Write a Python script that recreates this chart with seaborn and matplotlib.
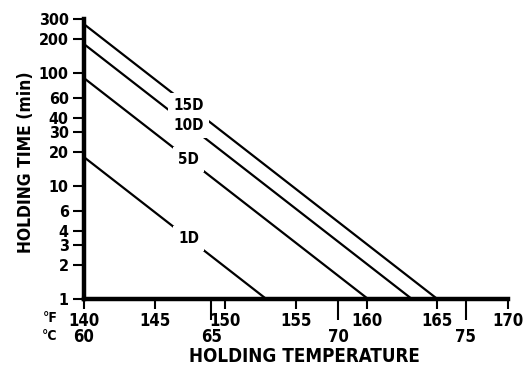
import numpy as np
import pandas as pd
import matplotlib
matplotlib.use("Agg")
import matplotlib.pyplot as plt
import seaborn as sns

# ---- data ----
curve_labels = ["1D", "5D", "10D", "15D"]
start_temp_f = [140, 140, 140, 140]          # holding temperature at start (°F)
start_time_min = [18, 90, 180, 270]          # holding time at 140 °F (min)
end_temp_f = [152.9, 160.1, 163.2, 165.0]    # temperature where time reaches 1 min
end_time_min = [1, 1, 1, 1]
label_temp_f = 147.4                         # where curve labels sit

y_ticks = [1, 2, 3, 4, 6, 10, 20, 30, 40, 60, 100, 200, 300]
y_ticklabels = ["1", "2", "3", "4", "6", "10", "20", "30", "40", "60", "100", "200", "300"]
f_ticks = [140, 145, 150, 155, 160, 165, 170]
c_ticks = [60, 65, 70, 75]

rows = []
for lab, t0, y0, t1, y1 in zip(curve_labels, start_temp_f, start_time_min, end_temp_f, end_time_min):
    rows.append(dict(curve=lab, temp=t0, time=y0))
    rows.append(dict(curve=lab, temp=t1, time=y1))
df = pd.DataFrame(rows)

sns.set_style("ticks")
plt.rcParams["font.family"] = ["DejaVu Sans"]
plt.rcParams["font.stretch"] = "condensed"
plt.rcParams["font.weight"] = "bold"
for k in ["text.color", "axes.labelcolor", "xtick.color", "ytick.color",
          "xtick.labelcolor", "ytick.labelcolor"]:
    plt.rcParams[k] = "black"

W, H = 532, 365
fig = plt.figure(figsize=(W / 100, H / 100), dpi=100)
x0, x1, ytop, ybot = 84, 508, 19, 299
ax = fig.add_axes([x0 / W, 1 - ybot / H, (x1 - x0) / W, (ybot - ytop) / H])

sns.lineplot(data=df, x="temp", y="time", units="curve", estimator=None,
             color="black", linewidth=1.6, ax=ax, legend=False)

ax.set_yscale("log")
ax.set_ylim(1, 300)
ax.set_xlim(140, 170)
for ln in ax.lines:
    ln.set_clip_on(False)

ax.set_yticks(y_ticks)
ax.set_yticklabels(y_ticklabels)
ax.yaxis.set_minor_locator(matplotlib.ticker.NullLocator())
ax.set_xticks(f_ticks)
ax.set_xticklabels([str(v) for v in f_ticks])

for s in ["top", "right"]:
    ax.spines[s].set_visible(False)
for s in ["left", "bottom"]:
    ax.spines[s].set_linewidth(3.2)
    ax.spines[s].set_color("black")

ax.tick_params(axis="y", length=8, width=1.5, labelsize=11.5, pad=3)
ax.tick_params(axis="x", length=7, width=1.5, labelsize=12, pad=2)

sec = ax.secondary_xaxis("bottom", functions=(lambda f: (f - 32) * 5 / 9,
                                              lambda c: c * 9 / 5 + 32))
sec.set_xticks(c_ticks)
sec.set_xticklabels([str(v) for v in c_ticks])
sec.spines["bottom"].set_visible(False)
sec.tick_params(axis="x", length=15, width=1.5, labelsize=12, pad=6, color="black",
                labelcolor="black")
sec.xaxis.get_major_ticks()[0].tick1line.set_visible(False)

# curve labels with a white gap in the line
for lab, y0, t1 in zip(curve_labels, start_time_min, end_temp_f):
    frac = (label_temp_f - 140) / (t1 - 140)
    yv = 10 ** (np.log10(y0) * (1 - frac))
    ax.text(label_temp_f, yv, lab, ha="center", va="center", fontsize=11,
            fontweight="bold",
            bbox=dict(facecolor="white", edgecolor="none", pad=3.5))

ax.set_xlabel("HOLDING TEMPERATURE", fontsize=13.5, fontweight="bold")
ax.xaxis.label.set_va("center")
ax.xaxis.set_label_coords((304 - x0) / (x1 - x0), -(356 - ybot) / (ybot - ytop))
ax.set_ylabel("HOLDING TIME (min)", fontsize=12.5, fontweight="bold")
ax.yaxis.label.set_va("center")
ax.yaxis.set_label_coords(-(x0 - 26) / (x1 - x0), (ybot - 162) / (ybot - ytop))

fig.text(50 / W, 1 - 318 / H, "°F", fontsize=10, fontweight="bold", ha="center", va="center")
fig.text(50 / W, 1 - 336 / H, "°C", fontsize=10, fontweight="bold", ha="center", va="center")

fig.savefig("out.png", dpi=100)
